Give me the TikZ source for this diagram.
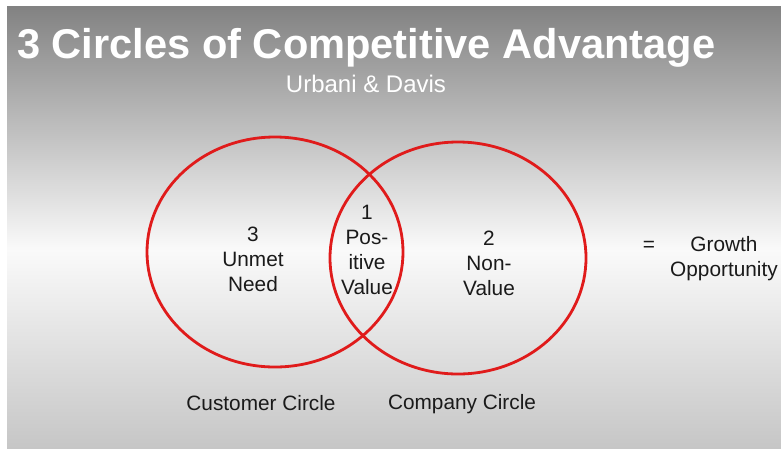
\documentclass[tikz,border=0pt]{standalone}
\usepackage{fontspec}
\setmainfont{Liberation Sans}
\definecolor{circred}{HTML}{E01B1B}
\definecolor{txt}{HTML}{1A1A1A}
\definecolor{bgtop}{HTML}{828282}
\definecolor{bgmid}{HTML}{FAFAFA}
\definecolor{bgbot}{HTML}{C6C6C6}
\begin{document}
\begin{tikzpicture}[x=1pt,y=-1pt,
  vcirc/.style={draw=circred,line width=2.8pt},
  lbl/.style={text=txt,font=\fontsize{20.8}{25}\selectfont,align=center,inner sep=0pt},
  ttl/.style={text=white,inner sep=0pt}]
\useasboundingbox (0,0) rectangle (781,448);
\fill[white] (0,0) rectangle (781,448);
\shade[top color=bgtop,bottom color=bgmid] (7,6) rectangle (781,250);
\shade[top color=bgmid,bottom color=bgbot] (7,250) rectangle (781,448);
\node[ttl,anchor=base west,font=\bfseries\fontsize{41.6}{48}\selectfont] (title) at (17,58) {3 Circles of Competitive Advantage};
\node[ttl,anchor=base,font=\fontsize{24}{28}\selectfont] (sub) at (366,92) {Urbani \& Davis};
\draw[vcirc] (275,252) ellipse [x radius=128,y radius=115];
\draw[vcirc] (458,258) ellipse [x radius=128,y radius=116];
\node[lbl] (unmet) at (253,259) {3\\Unmet\\Need};
\node[lbl] (pos) at (367,250) {1\\Pos-\\itive\\Value};
\node[lbl] (non) at (489,263) {2\\Non-\\Value};
\node[lbl] (eq) at (649,246) {=};
\node[lbl] (growth) at (724,259) {Growth\\Opportunity};
\node[lbl] (cust) at (261,403) {Customer Circle};
\node[lbl] (comp) at (462,404) {Company Circle};
\end{tikzpicture}
\end{document}
